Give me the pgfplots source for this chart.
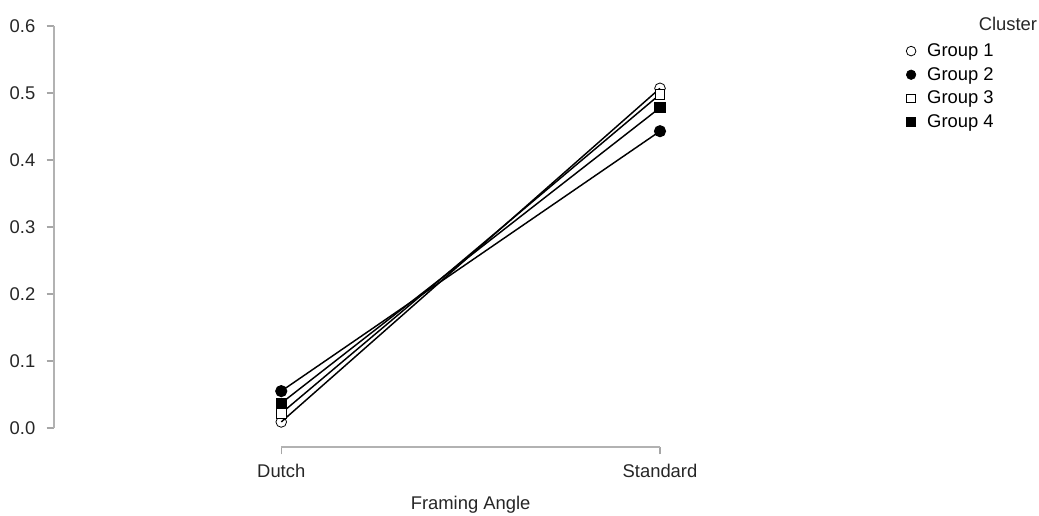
\documentclass[border=0pt]{standalone}
\usepackage{pgfplots}
\pgfplotsset{compat=1.18}
\usepackage{fontspec}
\setmainfont{Liberation Sans}
\begin{document}
\begin{tikzpicture}[x=1pt,y=1pt]
\begin{axis}[
  at={(0,0)}, anchor=south west,
  scale only axis,
  width=454.5pt, height=315.75pt,
  xmin=-0.6, xmax=1,
  ymin=-0.0284, ymax=0.6,
  axis line style={draw=none},
  xtick={0,1}, xticklabels={Dutch,Standard},
  ytick={0,0.1,0.2,0.3,0.4,0.5,0.6},
  yticklabel style={/pgf/number format/fixed,/pgf/number format/fixed zerofill,/pgf/number format/precision=1, xshift=-5pt},
  xticklabel style={yshift=-4pt},
  /pgf/number format/assume math mode=true,
  tick align=outside,
  major tick length=5.5pt,
  tick style={gray!70, line width=0.8pt},
  xtick pos=bottom, ytick pos=left,
  ticklabel style={font=\fontsize{13.8}{16}\selectfont, text=black!85},
  clip=false,
  legend style={draw=none, fill=none, at={(1.406,0.965)}, anchor=north west,
    font=\fontsize{13.8}{16}\selectfont, row sep=2.6pt, inner sep=0pt,
    /tikz/every odd column/.append style={column sep=6.5pt}},
  legend cell align=left,
]
\draw[gray!60, line width=0.8pt] (axis cs:-0.6,0) -- (axis cs:-0.6,0.6);
\draw[gray!60, line width=0.8pt] (axis cs:0,-0.0284) -- (axis cs:1,-0.0284);
\addplot[black, line width=1.1pt, mark=o, mark size=4pt, mark options={fill=white, line width=0.6pt}, forget plot] coordinates {(0,0.009) (1,0.507)};
\addplot[black, line width=1.1pt, mark=*, mark size=4pt, mark options={fill=black}, forget plot] coordinates {(0,0.055) (1,0.443)};
\addplot[black, line width=1.1pt, mark=square*, mark size=3.6pt, mark options={fill=white, line width=0.6pt}, forget plot] coordinates {(0,0.022) (1,0.498)};
\addplot[black, line width=1.1pt, mark=square*, mark size=3.6pt, mark options={fill=black}, forget plot] coordinates {(0,0.037) (1,0.478)};
\addlegendimage{only marks, mark=o, mark size=3.6pt, mark options={fill=white, line width=0.6pt}}
\addlegendentry{Group 1}
\addlegendimage{only marks, mark=*, mark size=3.6pt, black}
\addlegendentry{Group 2}
\addlegendimage{only marks, mark=square*, mark size=3.3pt, mark options={fill=white, draw=black, line width=0.6pt}}
\addlegendentry{Group 3}
\addlegendimage{only marks, mark=square*, mark size=3.3pt, black}
\addlegendentry{Group 4}
\node[anchor=east, font=\fontsize{13.8}{16}\selectfont, text=black!85] at (rel axis cs:1.630,1.006) {Cluster};
\node[font=\fontsize{13.8}{16}\selectfont, text=black!85] at (axis cs:0.5,-0.114) {Framing Angle};
\end{axis}
\pgfresetboundingbox
\path (-40.5pt,-51pt) rectangle (738.75pt,335.25pt);
\end{tikzpicture}
\end{document}
